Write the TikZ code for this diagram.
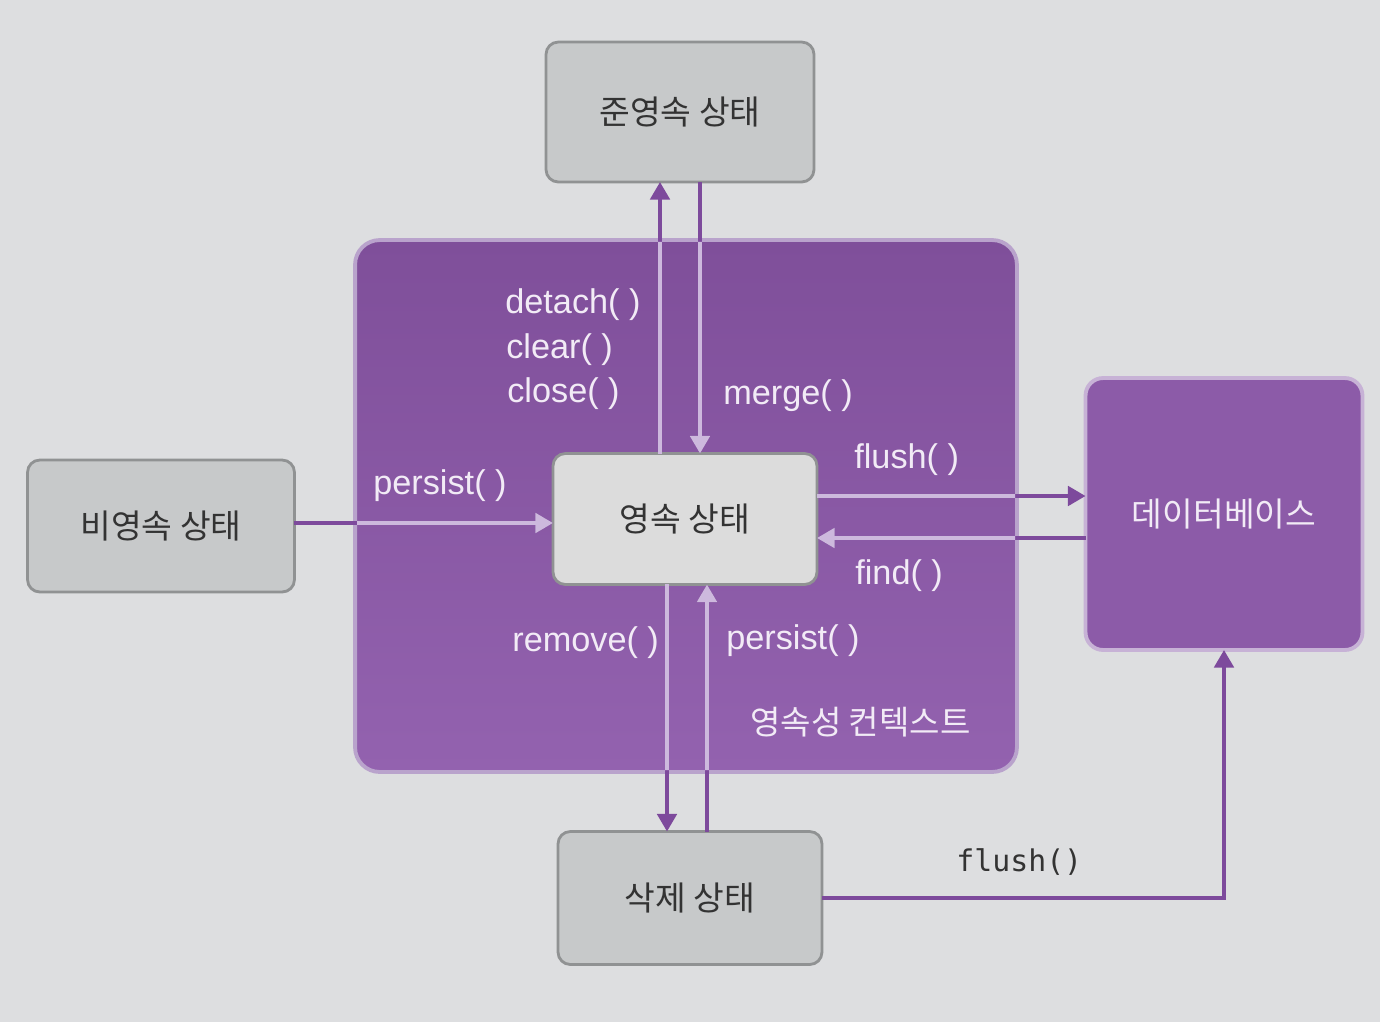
\documentclass[tikz,border=0pt]{standalone}
\usepackage{fontspec}
\setmainfont{Liberation Sans}
\newfontfamily\kr{Noto Sans CJK KR}
\newfontfamily\monof{DejaVu Sans Mono}
\usetikzlibrary{arrows.meta,calc}
\definecolor{pagebg}{HTML}{DDDEE0}
\definecolor{greyfill}{HTML}{C7C9CA}
\definecolor{greyline}{HTML}{909293}
\definecolor{litefill}{HTML}{DCDCDC}
\definecolor{ctxtop}{HTML}{7F4F9A}
\definecolor{ctxbot}{HTML}{9362AF}
\definecolor{ctxline}{HTML}{B9A3CC}
\definecolor{dbfill}{HTML}{8C5BA8}
\definecolor{dbline}{HTML}{C7B2D6}
\definecolor{darkarrow}{HTML}{7D4A9C}
\definecolor{litearrow}{HTML}{CDB9DD}
\definecolor{labeltxt}{HTML}{F2EBF6}
\definecolor{krtxt}{HTML}{333333}
\tikzset{
  statebox/.style={draw=greyline, fill=greyfill, line width=1.6pt, rounded corners=7pt,
    inner sep=0pt, outer sep=0pt, text=krtxt, font=\kr\fontsize{19}{23}\selectfont},
  ctxbox/.style={draw=ctxline, line width=2.2pt, rounded corners=14pt, top color=ctxtop, bottom color=ctxbot,
    inner sep=0pt, outer sep=0pt},
  dbbox/.style={draw=dbline, fill=dbfill, line width=2.2pt, rounded corners=10pt,
    inner sep=0pt, outer sep=0pt, text=labeltxt, font=\kr\fontsize{19}{23}\selectfont},
  meth/.style={anchor=west, inner sep=0pt, text=labeltxt, font=\fontsize{19.5}{23}\selectfont},
  conn/.style={line width=2.2pt},
  tip/.style={-{Triangle[width=11pt,length=10pt]}}
}
\newcommand\myconns[1]{%
  \draw[conn,tip,#1] (yeong.north -| xa) -- (jun.south -| xa);
  \draw[conn,tip,#1] (jun.south -| xb) -- (yeong.north -| xb);
  \draw[conn,tip,#1] (bi.east |- ya) -- (yeong.west |- ya);
  \draw[conn,tip,#1] (yeong.east |- yf) -- (db.west |- yf);
  \draw[conn,tip,#1] (db.west |- yg) -- (yeong.east |- yg);
  \draw[conn,tip,#1] (yeong.south -| xc) -- (sak.north -| xc);
  \draw[conn,tip,#1] (sak.north -| xd) -- (yeong.south -| xd);
  \draw[conn,tip,#1] (sak.east) -| (db.south);
}
\begin{document}
\begin{tikzpicture}[x=0.02cm,y=-0.02cm]
  \fill[pagebg] (0,0) rectangle (1380,1022);
  \useasboundingbox (0,0) rectangle (1380,1022);
  % context
  \node[ctxbox, minimum width=13.24cm, minimum height=10.64cm] (ctx) at (686,506) {};
  % nodes
  \node[statebox, minimum width=5.36cm, minimum height=2.8cm] (jun) at (680,112) {준영속 상태};
  \node[statebox, minimum width=5.34cm, minimum height=2.64cm] (bi) at (161,526) {비영속 상태};
  \node[statebox, fill=litefill, minimum width=5.28cm, minimum height=2.62cm] (yeong) at (685,519) {영속 상태};
  \node[statebox, minimum width=5.28cm, minimum height=2.66cm] (sak) at (690,898) {삭제 상태};
  \node[dbbox, minimum width=5.54cm, minimum height=5.44cm] (db) at (1224,514) {데이터베이스};
  % helper coordinates
  \coordinate (xa) at (660,0);
  \coordinate (xb) at (700,0);
  \coordinate (xc) at (667,0);
  \coordinate (xd) at (707,0);
  \coordinate (ya) at (0,523);
  \coordinate (yf) at (0,496);
  \coordinate (yg) at (0,538);
  % connectors: dark outside, light inside the context
  \myconns{darkarrow}
  \begin{scope}
    \clip[rounded corners=14pt] ($(ctx.south west)+(1.1pt,1.1pt)$) rectangle ($(ctx.north east)+(-1.1pt,-1.1pt)$);
    \myconns{litearrow}
  \end{scope}
  % labels
  \node[meth] (l1) at (505,305) {detach( )};
  \node[meth] (l2) at (506,350) {clear( )};
  \node[meth] (l3) at (507,394) {close( )};
  \node[meth] (l4) at (723,396) {merge( )};
  \node[meth] (l5) at (373,486) {persist( )};
  \node[meth] (l6) at (854,460) {flush( )};
  \node[meth] (l7) at (855,576) {find( )};
  \node[meth] (l8) at (512,643) {remove( )};
  \node[meth] (l9) at (726,641) {persist( )};
  \node[anchor=west, inner sep=0pt, text=labeltxt, font=\kr\fontsize{18.8}{22}\selectfont] (lctx) at (750,722) {영속성 컨텍스트};
  \node[anchor=west, inner sep=0pt, text=krtxt, font=\monof\fontsize{17}{20}\selectfont] (lfl) at (956,862) {flush()};
\end{tikzpicture}
\end{document}
